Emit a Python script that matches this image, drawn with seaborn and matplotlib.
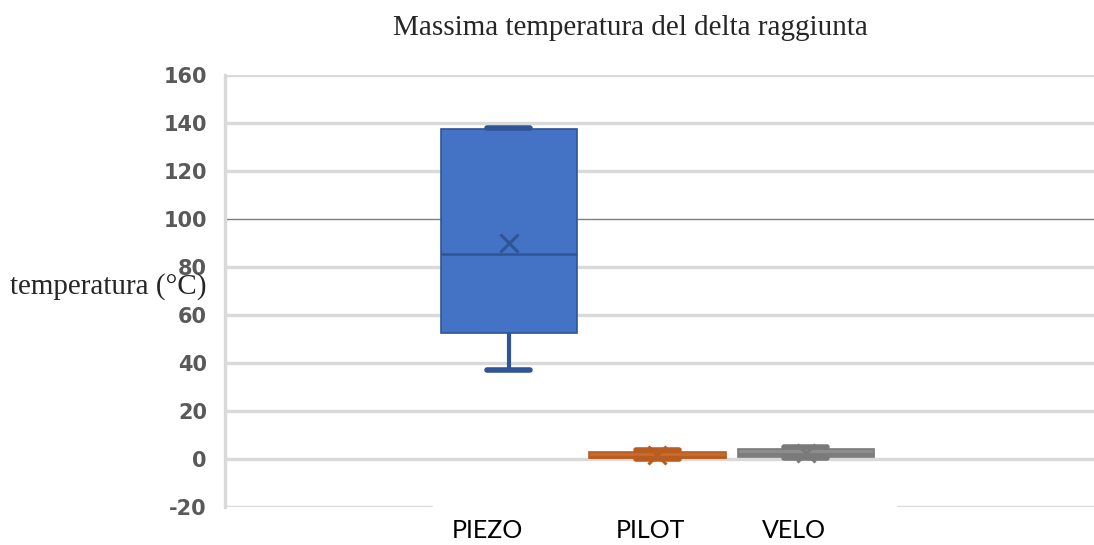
import matplotlib
matplotlib.use("Agg")
import matplotlib.pyplot as plt
import matplotlib.transforms as mtransforms
import numpy as np
import pandas as pd
import seaborn as sns

# Measurements per sensor (°C of maximum delta temperature)
piezo = [37.0, 52.5, 85.5, 137.5, 138.0]
pilot = [0.0, 0.3, 0.8, 3.0, 3.6]
velo = [0.3, 0.9, 2.0, 4.0, 5.0]

sensors = ["PIEZO", "PILOT", "VELO"]
fill_colors = ["#4472C4", "#C8682A", "#8C8C8C"]
line_colors = ["#2F5597", "#B85C20", "#7A7A7A"]
y_ticks = [-20, 0, 20, 40, 60, 80, 100, 120, 140, 160]

df = pd.DataFrame({
    "sensor": np.repeat(sensors, [len(piezo), len(pilot), len(velo)]),
    "temp": piezo + pilot + velo,
})

sns.set_theme(style="white")
plt.rcParams["font.family"] = ["DejaVu Sans"]

fig = plt.figure(figsize=(10.94, 5.45), dpi=100)
ax = fig.add_axes([225 / 1094, 1 - 507 / 545, 1 - 225 / 1094, (507 - 75) / 545])

sns.boxplot(
    data=df, x="sensor", y="temp", hue="sensor", order=sensors,
    palette=dict(zip(sensors, fill_colors)), width=0.92, whis=3,
    showmeans=True, capwidths=0.29, legend=False, ax=ax, zorder=3,
)

for cont, fc, lc in zip(ax.containers, fill_colors, line_colors):
    for b in cont.boxes:
        b.set_facecolor(fc)
        b.set_edgecolor(lc)
        b.set_linewidth(1.2)
        b.set_zorder(3)
    for w in cont.whiskers:
        w.set_color(lc)
        w.set_linewidth(3)
        w.set_zorder(3)
    for c in cont.caps:
        c.set_color(lc)
        c.set_linewidth(4)
        c.set_zorder(3)
    for m in cont.medians:
        m.set_color(lc)
        m.set_linewidth(1.8)
        m.set_zorder(4)
    for mn in cont.means:
        mn.set_marker("x")
        mn.set_markersize(13)
        mn.set_markeredgewidth(2.2)
        mn.set_markeredgecolor(lc)
        mn.set_markerfacecolor(lc)
        mn.set_zorder(5)

ax.set_ylim(-20, 160)
ax.set_xlim(-1.912, 3.94)
ax.set_yticks(y_ticks)
ax.set_yticklabels([str(t) for t in y_ticks], fontsize=15, fontweight="bold",
                   color="#595959")
ax.tick_params(axis="y", length=0, pad=13)
ax.tick_params(axis="x", length=0, pad=9)
ax.set_xticks(range(len(sensors)))
ax.set_xticklabels(sensors, family="Lato", fontsize=18, color="black")
for lab, dx in zip(ax.get_xticklabels(), [-22, -7, -12]):
    lab.set_transform(lab.get_transform()
                      + mtransforms.ScaledTranslation(dx / 100, 0, fig.dpi_scale_trans))
ax.set_xlabel("")
ax.set_ylabel("")

# Horizontal gridlines
for t in y_ticks:
    if t == -20:
        ax.axhline(t, xmin=0, xmax=(431 - 225) / 869, color="#D9D9D9", lw=2.4, zorder=1)
        ax.axhline(t, xmin=(898 - 225) / 869, xmax=1, color="#D9D9D9", lw=2.4, zorder=1)
    elif t == 100:
        ax.axhline(t, color="#7F7F7F", lw=1.0, zorder=1)
    else:
        ax.axhline(t, color="#D9D9D9", lw=2.4, zorder=1)

for s in ["top", "right", "bottom"]:
    ax.spines[s].set_visible(False)
ax.spines["left"].set_color("#D9D9D9")
ax.spines["left"].set_linewidth(2.4)

fig.text(630 / 1094, 1 - 28 / 545, "Massima temperatura del delta raggiunta",
         family="Liberation Serif", fontsize=21, ha="center", va="center")
fig.text(10 / 1094, 1 - 287 / 545, "temperatura (°C)",
         family="Liberation Serif", fontsize=21, ha="left", va="center",
         zorder=0)

fig.savefig("out.png", dpi=100)
